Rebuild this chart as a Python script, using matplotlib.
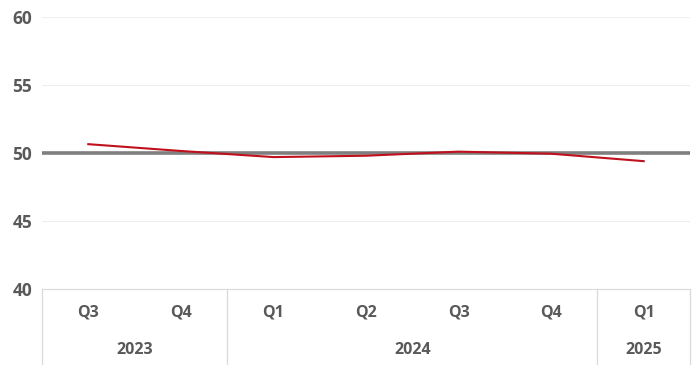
import numpy as np
from matplotlib import pyplot as plt
from matplotlib import transforms

quarters = ["Q3", "Q4", "Q1", "Q2", "Q3", "Q4", "Q1"]
years = ["2023", "2024", "2025"]
year_spans = [(0, 1), (2, 5), (6, 6)]   # first and last quarter index per year
values = [50.65, 50.15, 49.7, 49.8, 50.1, 49.95, 49.4]
reference = 50

plt.rcParams['font.family'] = ['Open Sans', 'DejaVu Sans']

fig = plt.figure(figsize=(7, 3.65), dpi=100)
ax = fig.add_axes([0.06, 0.2082, 0.9257, 0.7452])

x = np.arange(len(values))
ax.axhline(reference, color="#7f7f7f", lw=2.6, zorder=2)
ax.plot(x, values, color="#c0101c", lw=1.5, zorder=3)

ax.set_xlim(-0.5, len(values) - 0.5)
ax.set_ylim(40, 60)
ax.set_yticks([40, 45, 50, 55, 60])
ax.tick_params(axis="y", length=0, pad=7, labelsize=12.5, labelcolor="#595959")
for lab in ax.get_yticklabels():
    lab.set_fontweight("bold")
ax.set_xticks([])
ax.grid(axis="y", color="#efefef", lw=0.8)
ax.set_axisbelow(True)
for s in ["top", "right", "left"]:
    ax.spines[s].set_visible(False)
ax.spines["bottom"].set_color("#d9d9d9")

# multi-level category axis
trans = transforms.blended_transform_factory(ax.transData, ax.transAxes)
for i, q in enumerate(quarters):
    ax.text(i, -0.088, q, transform=trans, ha="center", va="center",
            fontsize=11.5, fontweight="bold", color="#595959")
bounds = [-0.5]
for (a, b), yr in zip(year_spans, years):
    ax.text((a + b) / 2, -0.224, yr, transform=trans, ha="center", va="center",
            fontsize=11.5, fontweight="bold", color="#595959")
    bounds.append(b + 0.5)
for bx in bounds:
    ax.plot([bx, bx], [0, -0.3], transform=trans, color="#d9d9d9", lw=0.9,
            clip_on=False)

fig.savefig("out.png", dpi=100)
